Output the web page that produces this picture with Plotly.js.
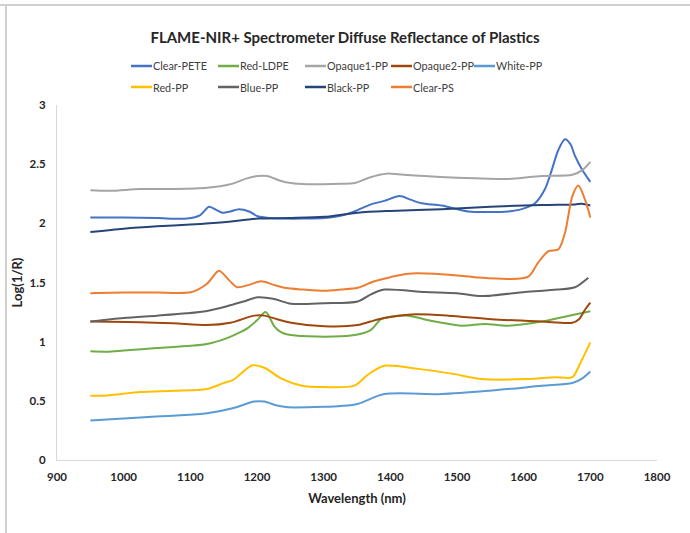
<!DOCTYPE html>
<html>
<head>
<meta charset="utf-8">
<script src="https://cdn.plot.ly/plotly-3.0.1.min.js"></script>
<style>
html,body{margin:0;padding:0;background:#fff;}
#chart{width:690px;height:533px;}
</style>
</head>
<body>
<div id="chart"></div>
<script>
// Series names
const names = ["Clear-PETE","Red-LDPE","Opaque1-PP","Opaque2-PP","White-PP","Red-PP","Blue-PP","Black-PP","Clear-PS"];
const colors = ["#4472C4","#70AD47","#A5A5A5","#9E480E","#5B9BD5","#FFC000","#636363","#264478","#ED7D31"];

// Wavelength (nm) and Log(1/R) values per series
const clearPETE_x = [950,1000,1050,1095,1115,1128,1140,1148,1160,1173,1188,1201,1220,1241,1270,1301,1330,1346,1371,1391,1414,1430,1447,1477,1517,1547,1577,1597,1617,1632,1641,1652,1662,1670,1677,1688,1700];
const clearPETE_y = [2.05,2.05,2.045,2.04,2.07,2.14,2.11,2.09,2.10,2.12,2.10,2.06,2.045,2.04,2.04,2.045,2.07,2.10,2.16,2.19,2.23,2.20,2.17,2.15,2.10,2.095,2.10,2.12,2.17,2.29,2.43,2.62,2.71,2.67,2.57,2.45,2.35];

const redLDPE_x = [950,975,1000,1050,1100,1125,1155,1175,1186,1200,1213,1226,1236,1246,1276,1326,1351,1371,1386,1400,1427,1450,1477,1507,1542,1577,1627,1677,1700];
const redLDPE_y = [0.918,0.915,0.925,0.946,0.965,0.98,1.03,1.08,1.115,1.18,1.25,1.13,1.08,1.06,1.045,1.045,1.06,1.10,1.19,1.21,1.22,1.19,1.16,1.135,1.15,1.135,1.17,1.23,1.257];

const opaque1_x = [950,980,1025,1075,1125,1160,1185,1201,1215,1235,1251,1275,1326,1346,1370,1394,1420,1451,1500,1527,1577,1627,1673,1688,1700];
const opaque1_y = [2.28,2.275,2.29,2.29,2.30,2.33,2.38,2.40,2.40,2.36,2.34,2.33,2.335,2.34,2.39,2.42,2.41,2.40,2.385,2.38,2.375,2.40,2.41,2.45,2.52];

const opaque2_x = [950,1025,1075,1125,1160,1196,1211,1230,1251,1301,1351,1370,1391,1432,1487,1552,1627,1673,1683,1692,1700];
const opaque2_y = [1.17,1.165,1.155,1.14,1.16,1.22,1.22,1.19,1.16,1.13,1.14,1.17,1.20,1.23,1.22,1.19,1.17,1.16,1.19,1.27,1.33];

const whitePP_x = [950,1025,1075,1125,1165,1196,1211,1230,1246,1301,1326,1351,1391,1477,1552,1627,1673,1688,1700];
const whitePP_y = [0.333,0.36,0.375,0.395,0.44,0.494,0.494,0.46,0.446,0.45,0.457,0.474,0.557,0.557,0.587,0.627,0.65,0.69,0.748];

const redPP_x = [950,975,1025,1075,1125,1150,1165,1193,1211,1236,1266,1301,1346,1366,1391,1442,1492,1537,1607,1647,1673,1685,1700];
const redPP_y = [0.542,0.545,0.574,0.585,0.60,0.65,0.68,0.80,0.78,0.69,0.63,0.616,0.628,0.72,0.797,0.77,0.73,0.684,0.684,0.70,0.70,0.82,0.994];

const bluePP_x = [950,1000,1050,1095,1125,1155,1180,1201,1226,1251,1301,1351,1371,1391,1452,1500,1537,1602,1650,1677,1697];
const bluePP_y = [1.17,1.20,1.22,1.24,1.26,1.30,1.34,1.375,1.36,1.32,1.325,1.34,1.40,1.44,1.42,1.41,1.385,1.42,1.44,1.46,1.54];

const blackPP_x = [950,1000,1050,1100,1150,1201,1251,1301,1351,1400,1477,1550,1627,1677,1687,1700];
const blackPP_y = [1.926,1.955,1.975,1.99,2.01,2.04,2.045,2.055,2.09,2.105,2.12,2.14,2.155,2.16,2.165,2.15];

const clearPS_x = [950,1000,1050,1102,1125,1143,1158,1170,1188,1206,1225,1241,1270,1301,1326,1351,1376,1400,1427,1477,1527,1577,1607,1622,1637,1652,1662,1673,1682,1692,1700];
const clearPS_y = [1.41,1.415,1.415,1.42,1.49,1.60,1.52,1.46,1.48,1.51,1.48,1.455,1.44,1.43,1.44,1.455,1.51,1.545,1.575,1.57,1.545,1.53,1.55,1.67,1.765,1.78,1.92,2.23,2.32,2.2,2.05];

const xs = [clearPETE_x,redLDPE_x,opaque1_x,opaque2_x,whitePP_x,redPP_x,bluePP_x,blackPP_x,clearPS_x];
const ys = [clearPETE_y,redLDPE_y,opaque1_y,opaque2_y,whitePP_y,redPP_y,bluePP_y,blackPP_y,clearPS_y];

// Axis ticks
const xTicks = [900,1000,1100,1200,1300,1400,1500,1600,1700,1800];
const yTicks = [0,0.5,1,1.5,2,2.5,3];
const yTickText = ["0","0.5","1","1.5","2","2.5","3"];

const FONT = "Lato, 'Open Sans', sans-serif";

const traces = names.map((n,i)=>({
  type:"scatter", mode:"lines", name:n,
  x: xs[i], y: ys[i],
  line:{color:colors[i], width:2, shape:"spline", smoothing:0.8},
  showlegend:false,
  hoverinfo:"skip"
}));

// plot area in px: left 57, right 657, top 105, bottom 460
const L=57, R=657, T=105, B=460;
const pw = R-L, ph = B-T;
const px = v => (v-L)/pw;
const py = v => (B-v)/ph;

// Legend layout (pixel positions of each entry's key line start, two rows)
const legendCols = [131,218,305,391,474];
const legendRows = [66,87];
const KEY = 21;

const shapes = [
  {type:"line", xref:"paper", yref:"paper", x0:px(0), x1:px(690), y0:py(5), y1:py(5), line:{color:"#d0d0d0", width:2}},
  {type:"line", xref:"paper", yref:"paper", x0:px(6), x1:px(6), y0:py(5), y1:py(533), line:{color:"#d0d0d0", width:2}}
];
const annotations = [];
names.forEach((n,i)=>{
  const row = i < 5 ? 0 : 1;
  const col = i < 5 ? i : i-5;
  const lx = legendCols[col], ly = legendRows[row];
  shapes.push({type:"line", xref:"paper", yref:"paper", x0:px(lx), x1:px(lx+KEY), y0:py(ly), y1:py(ly),
               line:{color:colors[i], width:2.5}});
  annotations.push({xref:"paper", yref:"paper", x:px(lx+KEY), y:py(ly), xanchor:"left", yanchor:"middle",
                    showarrow:false, text:n, borderpad:0, font:{family:FONT, size:10.8, color:"#404040"}});
});

const layout = {
  width:690, height:533,
  margin:{l:L, r:690-R, t:T, b:533-B, pad:0},
  paper_bgcolor:"#ffffff", plot_bgcolor:"#ffffff",
  font:{family:FONT, color:"#404040"},
  showlegend:false,
  title:{text:"<b>FLAME-NIR+ Spectrometer Diffuse Reflectance of Plastics</b>",
         font:{family:FONT, size:15, color:"#262626"},
         x:345/690, xanchor:"center", xref:"container", y:1-38/533, yanchor:"middle", yref:"container"},
  xaxis:{
    range:[900,1800], tickvals:xTicks, ticktext:xTicks.map(String),
    showgrid:false, zeroline:false, showline:true, linecolor:"#d9d9d9", linewidth:1,
    ticks:"", tickfont:{family:FONT, size:11.5, color:"#262626", weight:"bold"},
    ticklabelstandoff:6,
    title:{text:"<b>Wavelength (nm)</b>", font:{family:FONT, size:13, color:"#262626"}, standoff:12}
  },
  yaxis:{
    range:[0,3], tickvals:yTicks, ticktext:yTickText,
    showgrid:false, zeroline:false, showline:true, linecolor:"#d9d9d9", linewidth:1,
    ticks:"", tickfont:{family:FONT, size:11.5, color:"#262626", weight:"bold"},
    ticklabelstandoff:8,
    title:{text:"<b>Log(1/R)</b>", font:{family:FONT, size:13, color:"#262626"}, standoff:4}
  },
  shapes: shapes,
  annotations: annotations
};

Plotly.newPlot("chart", traces, layout, {displayModeBar:false, staticPlot:true});
</script>
</body>
</html>
